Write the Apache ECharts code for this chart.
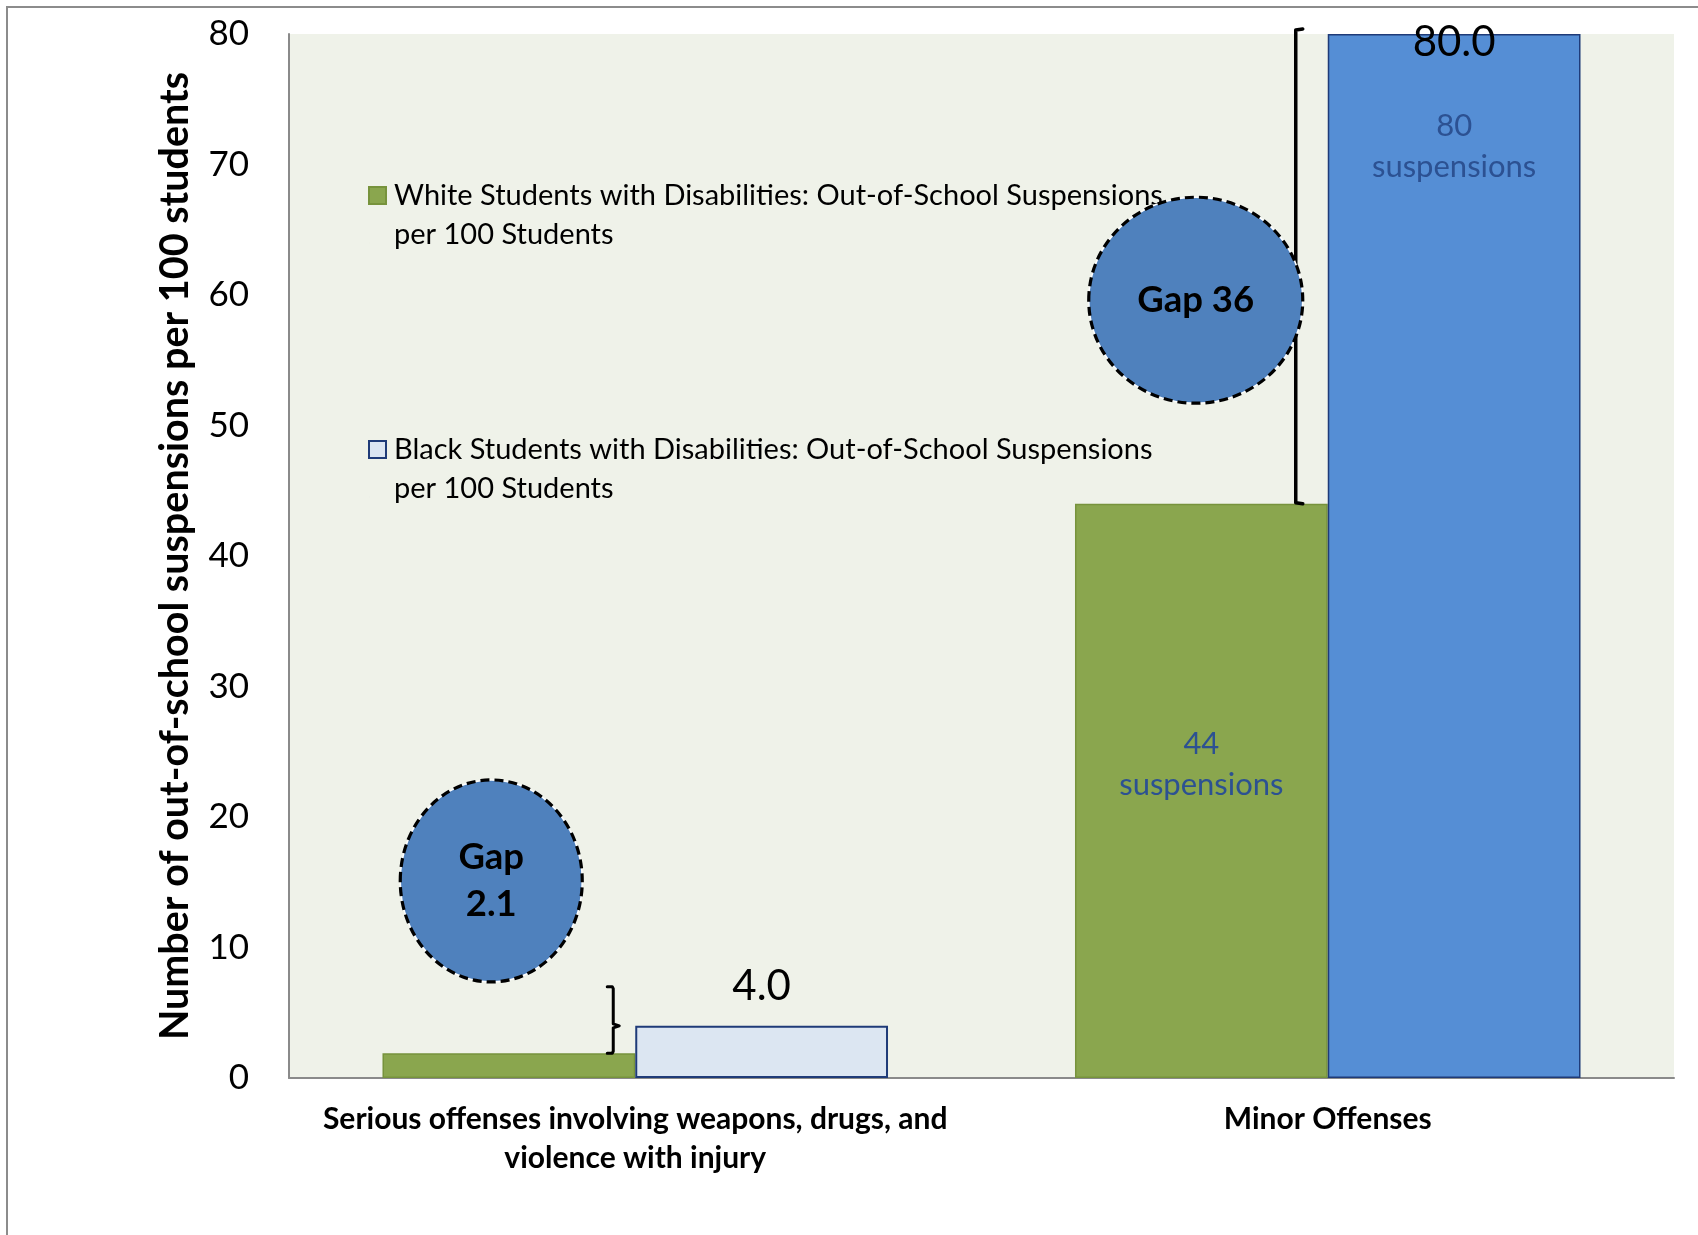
<!DOCTYPE html>
<html>
<head>
<meta charset="utf-8">
<script src="https://cdn.jsdelivr.net/npm/echarts@6/dist/echarts.min.js"></script>
<style>
  html, body { margin: 0; padding: 0; background: #ffffff; }
  #chart { width: 1698px; height: 1235px; }
</style>
</head>
<body>
<div id="chart"></div>
<script>
// Offense categories (tick labels on the horizontal axis)
const categories = [
  'Serious offenses involving weapons, drugs, and\nviolence with injury',
  'Minor Offenses'
];

// Series names, as shown in the legend
const whiteName = 'White Students with Disabilities: Out-of-School Suspensions\nper 100 Students';
const blackName = 'Black Students with Disabilities: Out-of-School Suspensions\nper 100 Students';

// Out-of-school suspensions per 100 students
const whiteRates = [1.9, 44];
const blackRates = [4.0, 80];

// Value axis
const yMin = 0;
const yMax = 80;
const yStep = 10;
const yTitle = 'Number of out-of-school suspensions per 100 students';

const FONT = 'Lato, "Noto Sans", sans-serif';
const NOTE_COLOR = '#2c5192';

// Legend square sits beside the first text line: the icon path carries an
// empty point one line below so the two-line text centres on the pair.
const LEGEND_ICON = 'path://M0,0H17V17H0Z M0,56H0.01V56Z';

const chart = echarts.init(document.getElementById('chart'), null, { renderer: 'canvas' });

function legendBlock(name, top) {
  return {
    data: [name],
    left: 368,
    top: top,
    padding: 0,
    orient: 'vertical',
    icon: LEGEND_ICON,
    itemWidth: 17,
    itemHeight: 56,
    selectedMode: false,
    textStyle: {
      fontFamily: FONT,
      fontSize: 29,
      lineHeight: 39,
      color: '#000000',
      padding: [0, 0, 0, 3]
    }
  };
}

// White series: the minor-offense bar carries a "N suspensions" note
const whiteData = whiteRates.map((v, i) => {
  if (i !== 1) return v;
  return {
    value: v,
    label: {
      show: true,
      position: 'inside',
      offset: [0, -26],
      formatter: v + '\nsuspensions',
      fontFamily: FONT,
      fontSize: 31,
      lineHeight: 41,
      color: NOTE_COLOR
    }
  };
});

// Black series: light fill for serious offenses, strong blue for minor offenses
const blackData = blackRates.map((v, i) => {
  if (i === 0) {
    return {
      value: v,
      itemStyle: { color: '#dce6f2', borderColor: '#1f3b78', borderWidth: 2 },
      label: {
        show: true,
        position: 'top',
        distance: 18,
        formatter: v.toFixed(1),
        fontFamily: FONT,
        fontSize: 42,
        lineHeight: 42,
        color: '#000000'
      }
    };
  }
  return {
    value: v,
    itemStyle: { color: '#558ed5', borderColor: '#1f3b78', borderWidth: 1.5 },
    label: {
      show: true,
      position: 'insideTop',
      distance: 0,
      offset: [0, -55],
      formatter: '{v|' + v.toFixed(1) + '}\n{n|' + v + '}\n{n|suspensions}',
      rich: {
        v: { fontFamily: FONT, fontSize: 42, lineHeight: 126, color: '#000000' },
        n: { fontFamily: FONT, fontSize: 31, lineHeight: 41, color: NOTE_COLOR }
      }
    }
  };
});

const option = {
  backgroundColor: '#ffffff',
  animation: false,
  textStyle: { fontFamily: FONT },
  grid: {
    left: 289,
    top: 34,
    right: 24,
    bottom: 157,
    show: true,
    backgroundColor: '#eff2e9',
    borderWidth: 0
  },
  legend: [
    legendBlock(whiteName, 176),
    legendBlock(blackName, 430)
  ],
  xAxis: {
    type: 'category',
    data: categories,
    axisLine: { show: true, lineStyle: { color: '#8a8a8a', width: 2 } },
    axisTick: { show: false },
    axisLabel: {
      interval: 0,
      margin: 22,
      fontFamily: FONT,
      fontWeight: 'bold',
      fontSize: 30,
      lineHeight: 39,
      color: '#000000'
    },
    splitLine: { show: false }
  },
  yAxis: {
    type: 'value',
    min: yMin,
    max: yMax,
    interval: yStep,
    name: yTitle,
    nameLocation: 'middle',
    nameRotate: 90,
    nameGap: 94,
    nameTextStyle: {
      fontFamily: FONT,
      fontWeight: 'bold',
      fontSize: 39.5,
      color: '#000000'
    },
    axisLine: { show: true, lineStyle: { color: '#8a8a8a', width: 2 } },
    axisTick: { show: false },
    axisLabel: {
      margin: 40,
      fontFamily: FONT,
      fontSize: 35,
      color: '#000000'
    },
    splitLine: { show: false }
  },
  series: [
    {
      name: whiteName,
      type: 'bar',
      data: whiteData,
      barGap: '0%',
      barCategoryGap: '27%',
      itemStyle: { color: '#8aa64e', borderColor: '#77933c', borderWidth: 1.5 }
    },
    {
      name: blackName,
      type: 'bar',
      data: blackData,
      barGap: '0%',
      barCategoryGap: '27%',
      itemStyle: { color: '#dce6f2', borderColor: '#1f3b78', borderWidth: 2 }
    }
  ]
};

chart.setOption(option);

// ---- Annotations: gap brackets and gap bubbles, placed through the axes ----
const px = (cat, val) => chart.convertToPixel({ gridIndex: 0 }, [cat, val]);
const gaps = whiteRates.map((w, i) => Math.round((blackRates[i] - w) * 10) / 10);

// Brace beside the serious-offense bars (from the white bar top upward)
const braceTopValue = 7;
const s0 = px(0, whiteRates[0]);
const sMid = px(0, blackRates[0]);
const sTop = px(0, braceTopValue);
const bx = s0[0] - 22;
const seriousBrace = [
  [bx - 6, sTop[1]], [bx - 1, sTop[1]], [bx, sTop[1] + 2],
  [bx, sMid[1] - 2], [bx + 6, sMid[1]], [bx, sMid[1] + 2],
  [bx, s0[1] - 2], [bx - 1, s0[1]], [bx - 6, s0[1]]
];

// Bracket beside the minor-offense bars (white top to black top)
const m0 = px(1, whiteRates[1]);
const m1 = px(1, blackRates[1]);
const mx = m0[0] - 32;
const mTop = m1[1] - 5;
const minorBracket = [
  [mx + 7, mTop], [mx, mTop + 1], [mx, m0[1] - 1], [mx + 7, m0[1]]
];

// Bubble anchors: category, horizontal shift from the category centre, value level, radii
const bubbles = [
  { cat: 0, dx: -144, at: 15.1, rx: 91, ry: 101, text: 'Gap\n' + gaps[0], lh: 47 },
  { cat: 1, dx: -132, at: 59.6, rx: 107, ry: 103, text: 'Gap ' + gaps[1], lh: 40 }
];

const graphics = [
  {
    type: 'rect',
    silent: true,
    z: 0,
    shape: { x: 7, y: 7, width: 1800, height: 1400 },
    style: { fill: 'none', stroke: '#8c8c8c', lineWidth: 2 }
  },
  {
    type: 'polyline',
    silent: true,
    z: 20,
    shape: { points: seriousBrace },
    style: { fill: 'none', stroke: '#000000', lineWidth: 3, lineJoin: 'round', lineCap: 'round' }
  },
  {
    type: 'polyline',
    silent: true,
    z: 20,
    shape: { points: minorBracket },
    style: { fill: 'none', stroke: '#000000', lineWidth: 3.5, lineJoin: 'round', lineCap: 'round' }
  }
];

bubbles.forEach(b => {
  const c = px(b.cat, b.at);
  const cx = c[0] + b.dx;
  const cy = c[1];
  graphics.push({
    type: 'ellipse',
    silent: true,
    z: 21,
    shape: { cx: cx, cy: cy, rx: b.rx, ry: b.ry },
    style: { fill: '#4f81bd', stroke: '#ffffff', lineWidth: 1.5 }
  });
  graphics.push({
    type: 'ellipse',
    silent: true,
    z: 22,
    shape: { cx: cx, cy: cy, rx: b.rx, ry: b.ry },
    style: { fill: 'none', stroke: '#000000', lineWidth: 3.2, lineDash: [9, 5] }
  });
  graphics.push({
    type: 'text',
    silent: true,
    z: 23,
    x: cx,
    y: cy,
    style: {
      text: b.text,
      fontFamily: FONT,
      fontWeight: 'bold',
      fontSize: 36.5,
      lineHeight: b.lh,
      fill: '#000000',
      align: 'center',
      verticalAlign: 'middle'
    }
  });
});

chart.setOption({ graphic: graphics });
</script>
</body>
</html>
